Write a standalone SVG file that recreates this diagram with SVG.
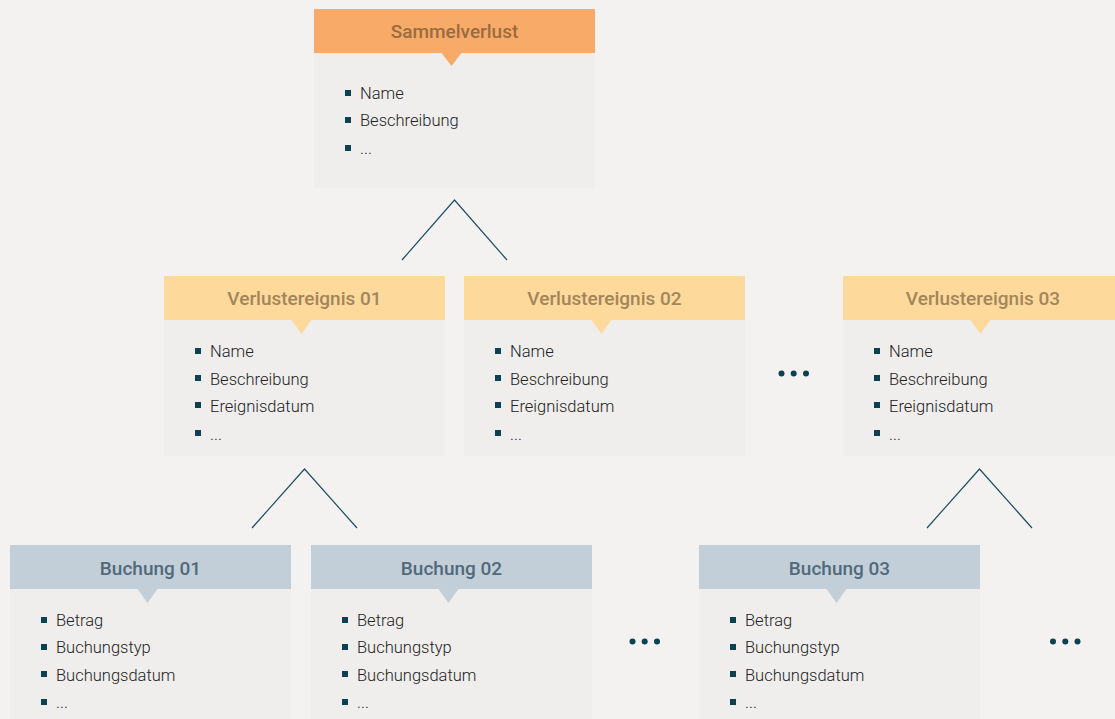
<svg xmlns="http://www.w3.org/2000/svg" width="1115" height="719" viewBox="0 0 1115 719">
<style>
.body{fill:#efeeed}
.h1{fill:#f8ab68}
.h2{fill:#fdd99c}
.h3{fill:#c2cfd8}
.t1{font-family:Roboto,"Liberation Sans",sans-serif;font-size:19px;font-weight:500;fill:#9b6b40;text-anchor:middle}
.t2{font-family:Roboto,"Liberation Sans",sans-serif;font-size:19px;font-weight:500;fill:#a3855a;text-anchor:middle}
.t3{font-family:Roboto,"Liberation Sans",sans-serif;font-size:19px;font-weight:500;fill:#52697c;text-anchor:middle}
.it{font-family:Roboto,"Liberation Sans",sans-serif;font-size:16.5px;font-weight:300;fill:#222222}
.bl{fill:#0c4152}
.conn{fill:none;stroke:#1e4d63;stroke-width:1.2}
.dot{fill:#0c4152}
</style>
<rect width="1115" height="719" fill="#f3f2f1"/>
<g id="connectors">
<polyline class="conn" points="402,260 454.5,200 507,260"/>
<polyline class="conn" points="252,528 304.5,469 357,528"/>
<polyline class="conn" points="927,528 979.5,469 1032,528"/>
</g>
<g id="sammelverlust">
<rect class="body" x="314" y="53" width="281" height="135"/>
<rect class="h1" x="314" y="9" width="281" height="44"/>
<polygon class="h1" points="441.5,53 461.5,53 451.5,66"/>
<text class="t1" x="454.5" y="38">Sammelverlust</text>
<rect class="bl" x="345" y="90" width="6" height="6"/><text class="it" x="360" y="99">Name</text>
<rect class="bl" x="345" y="117" width="6" height="6"/><text class="it" x="360" y="126">Beschreibung</text>
<rect class="bl" x="345" y="145" width="6" height="6"/><text class="it" x="360" y="154">...</text>
</g>
<g id="verlust01">
<rect class="body" x="164" y="320" width="281" height="136"/>
<rect class="h2" x="164" y="276" width="281" height="44"/>
<polygon class="h2" points="291.5,320 311.5,320 301.5,334"/>
<text class="t2" x="304.5" y="305">Verlustereignis 01</text>
<rect class="bl" x="195" y="348" width="6" height="6"/><text class="it" x="210" y="357">Name</text>
<rect class="bl" x="195" y="375" width="6" height="6"/><text class="it" x="210" y="385">Beschreibung</text>
<rect class="bl" x="195" y="402" width="6" height="6"/><text class="it" x="210" y="412">Ereignisdatum</text>
<rect class="bl" x="195" y="430" width="6" height="6"/><text class="it" x="210" y="440">...</text>
</g>
<g id="verlust02">
<rect class="body" x="464" y="320" width="281" height="136"/>
<rect class="h2" x="464" y="276" width="281" height="44"/>
<polygon class="h2" points="591.5,320 611.5,320 601.5,334"/>
<text class="t2" x="604.5" y="305">Verlustereignis 02</text>
<rect class="bl" x="495" y="348" width="6" height="6"/><text class="it" x="510" y="357">Name</text>
<rect class="bl" x="495" y="375" width="6" height="6"/><text class="it" x="510" y="385">Beschreibung</text>
<rect class="bl" x="495" y="402" width="6" height="6"/><text class="it" x="510" y="412">Ereignisdatum</text>
<rect class="bl" x="495" y="430" width="6" height="6"/><text class="it" x="510" y="440">...</text>
</g>
<g id="verlust03">
<rect class="body" x="843" y="320" width="281" height="136"/>
<rect class="h2" x="843" y="276" width="281" height="44"/>
<polygon class="h2" points="970.5,320 990.5,320 980.5,334"/>
<text class="t2" x="983" y="305">Verlustereignis 03</text>
<rect class="bl" x="874" y="348" width="6" height="6"/><text class="it" x="889" y="357">Name</text>
<rect class="bl" x="874" y="375" width="6" height="6"/><text class="it" x="889" y="385">Beschreibung</text>
<rect class="bl" x="874" y="402" width="6" height="6"/><text class="it" x="889" y="412">Ereignisdatum</text>
<rect class="bl" x="874" y="430" width="6" height="6"/><text class="it" x="889" y="440">...</text>
</g>
<g id="buchung01">
<rect class="body" x="10" y="589" width="281" height="140"/>
<rect class="h3" x="10" y="545" width="281" height="44"/>
<polygon class="h3" points="137.5,589 157.5,589 147.5,603"/>
<text class="t3" x="150.5" y="575">Buchung 01</text>
<rect class="bl" x="41" y="617" width="6" height="6"/><text class="it" x="56" y="626">Betrag</text>
<rect class="bl" x="41" y="644" width="6" height="6"/><text class="it" x="56" y="653">Buchungstyp</text>
<rect class="bl" x="41" y="671" width="6" height="6"/><text class="it" x="56" y="681">Buchungsdatum</text>
<rect class="bl" x="41" y="699" width="6" height="6"/><text class="it" x="56" y="708">...</text>
</g>
<g id="buchung02">
<rect class="body" x="311" y="589" width="281" height="140"/>
<rect class="h3" x="311" y="545" width="281" height="44"/>
<polygon class="h3" points="438.5,589 458.5,589 448.5,603"/>
<text class="t3" x="451.5" y="575">Buchung 02</text>
<rect class="bl" x="342" y="617" width="6" height="6"/><text class="it" x="357" y="626">Betrag</text>
<rect class="bl" x="342" y="644" width="6" height="6"/><text class="it" x="357" y="653">Buchungstyp</text>
<rect class="bl" x="342" y="671" width="6" height="6"/><text class="it" x="357" y="681">Buchungsdatum</text>
<rect class="bl" x="342" y="699" width="6" height="6"/><text class="it" x="357" y="708">...</text>
</g>
<g id="buchung03">
<rect class="body" x="699" y="589" width="281" height="140"/>
<rect class="h3" x="699" y="545" width="281" height="44"/>
<polygon class="h3" points="826.5,589 846.5,589 836.5,603"/>
<text class="t3" x="839.5" y="575">Buchung 03</text>
<rect class="bl" x="730" y="617" width="6" height="6"/><text class="it" x="745" y="626">Betrag</text>
<rect class="bl" x="730" y="644" width="6" height="6"/><text class="it" x="745" y="653">Buchungstyp</text>
<rect class="bl" x="730" y="671" width="6" height="6"/><text class="it" x="745" y="681">Buchungsdatum</text>
<rect class="bl" x="730" y="699" width="6" height="6"/><text class="it" x="745" y="708">...</text>
</g>
<g id="ellipsis-verlust">
<circle class="dot" cx="781.5" cy="373.5" r="3"/><circle class="dot" cx="793.7" cy="373.5" r="3"/><circle class="dot" cx="806" cy="373.5" r="3"/>
</g>
<g id="ellipsis-buchung-a">
<circle class="dot" cx="632.5" cy="641.5" r="3"/><circle class="dot" cx="644.7" cy="641.5" r="3"/><circle class="dot" cx="657" cy="641.5" r="3"/>
</g>
<g id="ellipsis-buchung-b">
<circle class="dot" cx="1053" cy="641.5" r="3"/><circle class="dot" cx="1065.3" cy="641.5" r="3"/><circle class="dot" cx="1077.5" cy="641.5" r="3"/>
</g>
</svg>
